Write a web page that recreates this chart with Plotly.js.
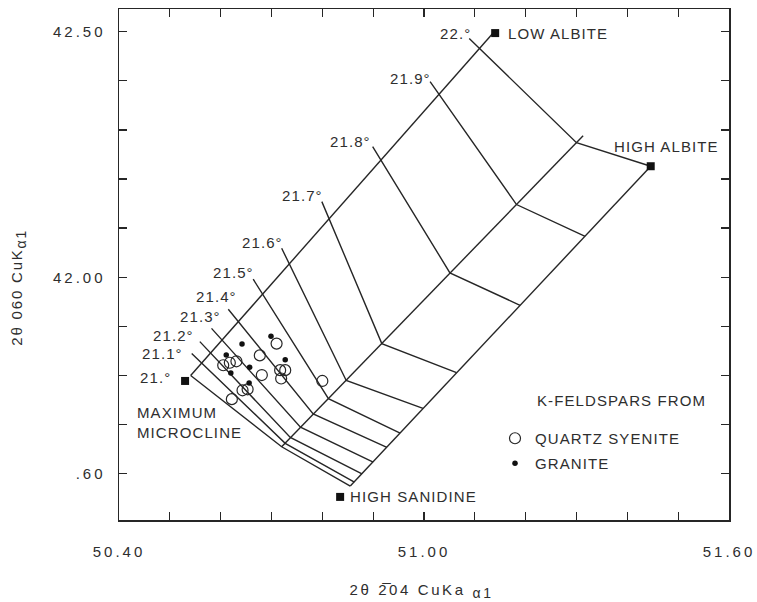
<!DOCTYPE html>
<html>
<head>
<meta charset="utf-8">
<script src="https://cdn.plot.ly/plotly-3.0.1.min.js"></script>
<style>
  html, body { margin: 0; padding: 0; background: #ffffff; }
  .annotation-text, .legendtext { letter-spacing: 1.1px; }
  .xtick text, .ytick text { letter-spacing: 3px; }
  g.annotation[data-index="16"] .annotation-text { letter-spacing: 2.6px; }
  g.annotation[data-index="17"] .annotation-text { letter-spacing: 1.8px; }
</style>
</head>
<body>
<div id="chart" style="width:757px;height:602px;"></div>
<script>
// ---------------- data ----------------
// 2θ(201) contours, 21.0° … 22.0°
const contourLabels = ["21.°", "21.1°", "21.2°", "21.3°", "21.4°", "21.5°", "21.6°", "21.7°", "21.8°", "21.9°", "22.°"];
// upper-left end of each contour (label leader start)
const ulX = [50.541, 50.543, 50.559, 50.582, 50.615, 50.664, 50.720, 50.799, 50.899, 51.012, 51.089];
const ulY = [41.800, 41.845, 41.869, 41.896, 41.935, 41.996, 42.059, 42.154, 42.266, 42.398, 42.486];
// bend of each contour on the intermediate structural line
const bendX = [50.720, 50.727, 50.737, 50.757, 50.782, 50.812, 50.847, 50.917, 51.051, 51.182, 51.300];
const bendY = [41.655, 41.662, 41.674, 41.695, 41.722, 41.753, 41.790, 41.865, 42.009, 42.148, 42.274];
// lower-right end of each contour (sanidine – high albite edge)
const lrX = [50.855, 50.863, 50.878, 50.900, 50.927, 50.953, 50.998, 51.064, 51.189, 51.317, 51.446];
const lrY = [41.575, 41.583, 41.600, 41.624, 41.654, 41.683, 41.733, 41.806, 41.943, 42.083, 42.226];

// structural-state lines (K side -> Na side)
const orderedEdgeX = [50.541, 51.136];
const orderedEdgeY = [41.800, 42.497];
const middleLineX = [50.720, 51.313];
const middleLineY = [41.655, 42.288];
const disorderedEdgeX = [50.855, 51.446];
const disorderedEdgeY = [41.575, 42.226];

// end members
const endNames = ["MAXIMUM<br>MICROCLINE", "LOW ALBITE", "HIGH ALBITE", "HIGH SANIDINE"];
const endX = [50.530, 51.140, 51.446, 50.835];
const endY = [41.789, 42.497, 42.226, 41.553];

// K-feldspars from quartz syenite (open circles)
const syeniteX = [50.710, 50.677, 50.605, 50.618, 50.631, 50.681, 50.717, 50.727, 50.719, 50.643, 50.653, 50.622, 50.800];
const syeniteY = [41.865, 41.841, 41.821, 41.826, 41.829, 41.801, 41.811, 41.811, 41.794, 41.770, 41.772, 41.752, 41.789];
// K-feldspars from granite (dots)
const graniteX = [50.699, 50.642, 50.611, 50.657, 50.727, 50.620, 50.656];
const graniteY = [41.880, 41.864, 41.842, 41.817, 41.832, 41.805, 41.785];

// ticks
const xTickVals = [50.4, 50.5, 50.6, 50.7, 50.8, 50.9, 51.0, 51.1, 51.2, 51.3, 51.4, 51.5, 51.6];
const xTickText = ["50.40", "", "", "", "", "", "51.00", "", "", "", "", "", "51.60"];
const yTickVals = [41.6, 41.7, 41.8, 41.9, 42.0, 42.1, 42.2, 42.3, 42.4, 42.5];
const yTickText = [".60", "", "", "", "42.00", "", "", "", "", "42.50"];

const legendTitle = "K-FELDSPARS FROM";
const seriesNames = ["QUARTZ SYENITE", "GRANITE"];
const xTitle = "2θ\u00A02\u030504\u00A0CuKa\u00A0<sub><span style=\"font-size:14px\">α1</span></sub>";
const yTitle = "2θ 060 CuK<sub><span style=\"font-size:14px\">α1</span></sub>";

// ---------------- styling ----------------
const ink = "#262626";
const textInk = "#2e2e2e";
const FONT = "Liberation Sans, Arial, Helvetica, sans-serif";
const fnt = {family: FONT, size: 15, color: textInk};

const traces = [];
function lineTrace(xs, ys) {
  return {type: "scatter", mode: "lines", x: xs, y: ys, showlegend: false, hoverinfo: "skip",
          line: {color: ink, width: 1.4}};
}
traces.push(lineTrace(orderedEdgeX, orderedEdgeY));
traces.push(lineTrace(middleLineX, middleLineY));
traces.push(lineTrace(disorderedEdgeX, disorderedEdgeY));
for (let i = 0; i < contourLabels.length; i++) {
  traces.push(lineTrace([ulX[i], bendX[i], lrX[i]], [ulY[i], bendY[i], lrY[i]]));
}
traces.push({type: "scatter", mode: "markers", x: endX, y: endY, showlegend: false, hoverinfo: "skip",
             marker: {symbol: "square", size: 8, color: "#111"}});
traces.push({type: "scatter", mode: "markers", x: syeniteX, y: syeniteY, name: seriesNames[0],
             legendgroup: "a",
             marker: {symbol: "circle-open", size: 11, color: ink, line: {width: 1.2, color: ink}}});
traces.push({type: "scatter", mode: "markers", x: graniteX, y: graniteY, name: seriesNames[1],
             legendgroup: "b",
             marker: {symbol: "circle", size: 5.5, color: "#111"}});

// label nudges (pixels): text right edge / vertical centre relative to contour start
const labelNudge = [[-20, 2], [-9, 0], [-6, -6.5], [9, -11.5], [9, -13], [1, -6.3], [1, -5.6], [1, -6], [-1.5, -5], [1, -3.4], [1.5, -5]];

const annotations = [];
for (let i = 0; i < contourLabels.length; i++) {
  annotations.push({x: ulX[i], y: ulY[i], xref: "x", yref: "y", text: contourLabels[i], showarrow: false,
    xanchor: "right", yanchor: "middle", xshift: labelNudge[i][0] + 2, yshift: -labelNudge[i][1], font: fnt});
}
const endStyle = [
  {xanchor: "left", yanchor: "middle", xshift: -50, yshift: -41.5, align: "left"},
  {xanchor: "left", yanchor: "middle", xshift: 11, yshift: 0},
  {xanchor: "right", yanchor: "middle", xshift: 70, yshift: 19.3},
  {xanchor: "left", yanchor: "middle", xshift: 8, yshift: 0}
];
for (let i = 0; i < endNames.length; i++) {
  annotations.push(Object.assign({x: endX[i], y: endY[i], xref: "x", yref: "y", text: endNames[i],
    showarrow: false, font: fnt}, endStyle[i]));
}
annotations.push({xref: "paper", yref: "paper", x: 0.6815, y: 0.2348, xanchor: "left", yanchor: "middle",
  text: legendTitle, showarrow: false, font: fnt});
annotations.push({xref: "paper", yref: "paper", x: 0.4967, y: -0.139, xanchor: "center", yanchor: "middle",
  text: xTitle, showarrow: false, font: fnt});
annotations.push({xref: "paper", yref: "paper", x: -0.164, y: 0.455, xanchor: "center", yanchor: "middle",
  text: yTitle, textangle: -90, showarrow: false, font: fnt});

const axisCommon = {
  showgrid: false, zeroline: false, showline: true, linecolor: ink, linewidth: 1.5, mirror: "ticks",
  ticks: "inside", ticklen: 8, tickwidth: 1.3, tickcolor: ink, tickmode: "array",
  tickfont: {family: FONT, size: 15, color: textInk}, fixedrange: true
};

const layout = {
  width: 757, height: 602,
  margin: {l: 119, r: 28, t: 9, b: 82},
  paper_bgcolor: "#ffffff", plot_bgcolor: "#ffffff",
  font: {family: FONT, color: textInk},
  xaxis: Object.assign({}, axisCommon, {range: [50.40, 51.60], tickvals: xTickVals, ticktext: xTickText,
    ticklabelstandoff: 17}),
  yaxis: Object.assign({}, axisCommon, {range: [41.506, 42.546], tickvals: yTickVals, ticktext: yTickText,
    ticklabelstandoff: 9}),
  showlegend: true,
  legend: {x: 0.6164, y: 0.1918, xanchor: "left", yanchor: "top", bgcolor: "rgba(0,0,0,0)",
    borderwidth: 0, font: fnt, traceorder: "grouped", tracegroupgap: 2.5},
  annotations: annotations
};

Plotly.newPlot("chart", traces, layout, {staticPlot: true, displayModeBar: false});
</script>
</body>
</html>
